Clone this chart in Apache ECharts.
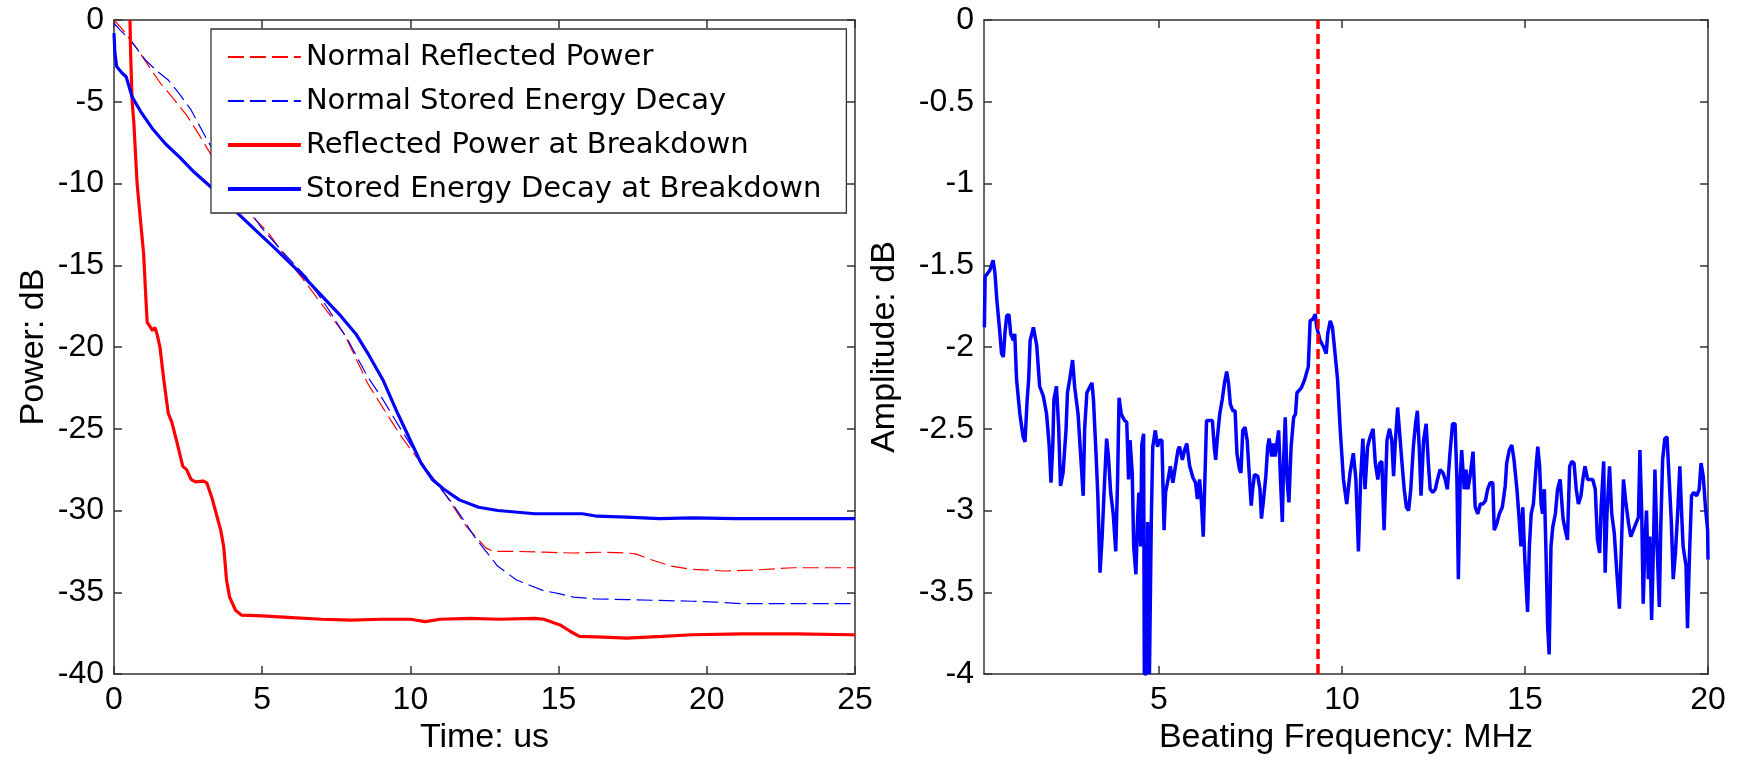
<!DOCTYPE html>
<html><head><meta charset="utf-8">
<script src="https://cdn.jsdelivr.net/npm/echarts@6/dist/echarts.min.js"></script>
<style>html,body{margin:0;padding:0;background:#fff}#chart{width:1742px;height:760px}</style>
</head><body><div id="chart"></div>
<script>
// ---- data (time in us, power in dB) ----
const seriesNames = ['Normal Reflected Power', 'Normal Stored Energy Decay', 'Reflected Power at Breakdown', 'Stored Energy Decay at Breakdown'];

const normalReflected = [[0,0],[0.3,-0.6],[0.54,-1.2],[0.8,-1.8],[1.2,-2.9],[1.58,-3.9],[2.0,-4.8],[2.48,-5.9],[2.9,-7.1],[3.26,-8.2],[3.9,-10.0],[4.55,-11.8],[5.2,-13.0],[5.8,-14.5],[6.48,-16.1],[7.1,-17.6],[7.77,-19.2],[8.4,-21.6],[8.55,-22.2],[9.1,-23.8],[9.7,-25.5],[10.36,-27.1],[10.8,-28.1],[11.13,-28.9],[11.5,-29.9],[11.9,-31.0],[12.3,-31.8],[12.55,-32.3],[12.8,-32.5],[13.5,-32.5],[14.5,-32.55],[15.5,-32.6],[16.5,-32.55],[17.3,-32.6],[17.6,-32.65],[18.1,-33.0],[18.8,-33.4],[19.5,-33.6],[20.6,-33.7],[21.5,-33.65],[22.9,-33.5],[24,-33.5],[25,-33.5]];

const normalStored = [[0,-0.2],[0.2,-0.6],[0.54,-1.2],[1.06,-2.45],[1.5,-3.2],[1.83,-3.67],[2.2,-4.5],[2.6,-5.5],[3.13,-7.3],[3.7,-9.0],[4.3,-10.9],[4.93,-12.6],[5.7,-14.2],[6.48,-15.7],[7.2,-17.6],[7.9,-19.6],[8.55,-21.8],[9.07,-23.2],[9.7,-25.1],[10.36,-27.0],[10.9,-28.4],[11.39,-29.5],[11.8,-30.6],[12.16,-31.6],[12.55,-32.5],[12.94,-33.4],[13.58,-34.25],[14.49,-34.9],[15.05,-35.1],[15.5,-35.3],[16.2,-35.4],[17.3,-35.45],[18.4,-35.5],[19.5,-35.55],[20.3,-35.6],[21.2,-35.7],[23,-35.7],[25,-35.7]];

const reflectedBreakdown = [[0.54,0],[0.56,-2],[0.61,-4.9],[0.67,-6.3],[0.72,-8],[0.78,-10],[0.88,-12],[1.0,-14.3],[1.06,-16.5],[1.12,-18.5],[1.2,-18.7],[1.3,-19.0],[1.38,-18.8],[1.45,-19.2],[1.55,-20.0],[1.68,-22.0],[1.83,-24.05],[1.95,-24.6],[2.05,-25.3],[2.16,-26.1],[2.32,-27.3],[2.45,-27.5],[2.6,-28.1],[2.75,-28.25],[3.0,-28.2],[3.13,-28.3],[3.3,-29.2],[3.45,-30.2],[3.6,-31.2],[3.7,-32.2],[3.8,-34.3],[3.9,-35.3],[4.1,-36.1],[4.3,-36.4],[5,-36.45],[6,-36.55],[7,-36.65],[8,-36.7],[9,-36.65],[10,-36.65],[10.5,-36.8],[11,-36.65],[12,-36.6],[13,-36.65],[14.2,-36.6],[14.5,-36.65],[15.05,-37.0],[15.4,-37.4],[15.7,-37.7],[16.5,-37.75],[17.3,-37.8],[18.5,-37.7],[19.5,-37.6],[21.2,-37.55],[23,-37.55],[24.9,-37.6],[25,-37.6]];

const storedBreakdown = [[0,-0.8],[0.03,-2.0],[0.09,-2.85],[0.25,-3.2],[0.41,-3.47],[0.61,-4.7],[0.9,-5.6],[1.32,-6.7],[1.75,-7.6],[2.22,-8.4],[2.7,-9.3],[3.26,-10.2],[4.16,-11.8],[4.8,-12.9],[5.45,-14.0],[6.3,-15.5],[7.13,-17.1],[7.65,-18.1],[8.16,-19.2],[8.6,-20.5],[9.07,-22.0],[9.58,-24.1],[10.1,-26.1],[10.36,-27.1],[10.74,-28.1],[11.13,-28.7],[11.65,-29.35],[12.3,-29.8],[12.95,-30.0],[14.2,-30.2],[15.05,-30.2],[15.8,-30.2],[16.3,-30.35],[17.3,-30.4],[18.4,-30.5],[19.5,-30.45],[21,-30.5],[23,-30.5],[25,-30.5]];

// ---- data (beating frequency in MHz, amplitude in dB) ----
const beatingSpectrum = [[0.23,-1.88],[0.25,-1.57],[0.38,-1.53],[0.47,-1.47],[0.52,-1.55],[0.57,-1.71],[0.64,-1.88],[0.70,-2.04],[0.75,-2.06],[0.79,-1.92],[0.84,-1.81],[0.9,-1.80],[0.95,-1.92],[1.02,-1.96],[1.06,-1.92],[1.11,-2.2],[1.2,-2.41],[1.29,-2.55],[1.34,-2.58],[1.4,-2.32],[1.44,-2.2],[1.48,-1.96],[1.57,-1.88],[1.66,-1.99],[1.74,-2.24],[1.84,-2.30],[1.93,-2.41],[2.0,-2.6],[2.05,-2.83],[2.1,-2.6],[2.13,-2.32],[2.2,-2.24],[2.26,-2.49],[2.31,-2.85],[2.38,-2.77],[2.46,-2.51],[2.5,-2.28],[2.56,-2.2],[2.64,-2.08],[2.7,-2.25],[2.79,-2.41],[2.88,-2.73],[2.93,-2.91],[2.97,-2.5],[3.03,-2.28],[3.12,-2.24],[3.17,-2.22],[3.21,-2.32],[3.28,-2.65],[3.33,-2.91],[3.39,-3.38],[3.45,-3.15],[3.5,-2.89],[3.57,-2.56],[3.62,-2.67],[3.68,-2.89],[3.75,-3.02],[3.82,-3.25],[3.87,-2.81],[3.91,-2.31],[3.97,-2.41],[4.06,-2.45],[4.12,-2.46],[4.17,-2.81],[4.21,-2.57],[4.27,-2.77],[4.31,-3.22],[4.37,-3.39],[4.41,-3.09],[4.45,-2.89],[4.5,-3.22],[4.53,-2.6],[4.58,-2.53],[4.6,-4.0],[4.66,-4.0],[4.69,-3.07],[4.74,-4.0],[4.79,-3.07],[4.83,-2.61],[4.9,-2.51],[4.96,-2.61],[5.01,-2.57],[5.08,-2.57],[5.14,-3.12],[5.18,-2.89],[5.25,-2.81],[5.31,-2.73],[5.38,-2.83],[5.45,-2.73],[5.52,-2.63],[5.56,-2.61],[5.64,-2.69],[5.7,-2.63],[5.76,-2.59],[5.84,-2.73],[5.93,-2.8],[6.0,-2.83],[6.05,-2.93],[6.11,-2.81],[6.16,-2.95],[6.21,-3.16],[6.25,-2.85],[6.3,-2.45],[6.39,-2.45],[6.46,-2.45],[6.51,-2.61],[6.55,-2.69],[6.59,-2.57],[6.66,-2.41],[6.73,-2.32],[6.79,-2.22],[6.85,-2.15],[6.9,-2.22],[6.95,-2.35],[7.02,-2.39],[7.08,-2.39],[7.13,-2.65],[7.2,-2.75],[7.24,-2.77],[7.29,-2.51],[7.35,-2.49],[7.41,-2.57],[7.47,-2.79],[7.52,-2.97],[7.56,-2.87],[7.61,-2.78],[7.7,-2.79],[7.76,-2.87],[7.8,-3.05],[7.85,-2.95],[7.92,-2.79],[7.97,-2.61],[8.01,-2.56],[8.08,-2.67],[8.12,-2.59],[8.17,-2.67],[8.21,-2.61],[8.27,-2.51],[8.32,-2.81],[8.37,-3.07],[8.41,-2.67],[8.45,-2.43],[8.5,-2.81],[8.55,-2.95],[8.61,-2.61],[8.68,-2.43],[8.73,-2.41],[8.77,-2.28],[8.89,-2.25],[8.98,-2.2],[9.08,-2.12],[9.13,-1.84],[9.2,-1.83],[9.27,-1.80],[9.31,-1.88],[9.36,-1.92],[9.4,-1.96],[9.5,-2.0],[9.57,-2.04],[9.61,-1.92],[9.68,-1.84],[9.74,-1.88],[9.82,-2.06],[9.88,-2.2],[9.95,-2.5],[10.04,-2.81],[10.13,-2.96],[10.22,-2.77],[10.31,-2.65],[10.38,-2.81],[10.45,-3.25],[10.51,-2.81],[10.57,-2.56],[10.63,-2.87],[10.7,-2.61],[10.77,-2.55],[10.85,-2.5],[10.91,-2.71],[10.98,-2.81],[11.03,-2.71],[11.09,-2.7],[11.15,-3.12],[11.23,-2.57],[11.3,-2.5],[11.36,-2.57],[11.41,-2.79],[11.45,-2.61],[11.52,-2.37],[11.57,-2.51],[11.64,-2.71],[11.7,-2.87],[11.76,-2.98],[11.82,-3.0],[11.88,-2.87],[11.95,-2.61],[12.01,-2.47],[12.06,-2.39],[12.11,-2.61],[12.16,-2.91],[12.23,-2.57],[12.3,-2.47],[12.36,-2.71],[12.41,-2.87],[12.48,-2.89],[12.55,-2.87],[12.61,-2.81],[12.68,-2.75],[12.76,-2.77],[12.82,-2.81],[12.88,-2.87],[12.95,-2.65],[13.02,-2.47],[13.09,-2.47],[13.14,-2.81],[13.18,-3.42],[13.23,-2.81],[13.27,-2.63],[13.34,-2.87],[13.39,-2.75],[13.44,-2.87],[13.5,-2.79],[13.58,-2.64],[13.64,-2.98],[13.71,-3.02],[13.78,-2.96],[13.85,-2.96],[13.92,-2.94],[13.98,-2.87],[14.05,-2.83],[14.12,-2.83],[14.16,-3.12],[14.23,-3.08],[14.3,-3.02],[14.38,-2.98],[14.46,-2.85],[14.5,-2.71],[14.57,-2.63],[14.64,-2.6],[14.7,-2.69],[14.78,-2.87],[14.84,-3.05],[14.89,-3.22],[14.94,-2.98],[15.0,-3.32],[15.07,-3.62],[15.12,-3.22],[15.17,-3.02],[15.23,-2.96],[15.31,-2.71],[15.35,-2.61],[15.4,-2.73],[15.44,-2.96],[15.48,-3.02],[15.53,-2.87],[15.57,-3.22],[15.62,-3.71],[15.66,-3.88],[15.71,-3.22],[15.76,-3.1],[15.83,-3.02],[15.89,-2.87],[15.96,-2.81],[16.04,-3.05],[16.1,-3.12],[16.16,-3.18],[16.22,-2.73],[16.28,-2.7],[16.34,-2.71],[16.4,-2.87],[16.46,-2.96],[16.53,-2.91],[16.58,-2.81],[16.64,-2.73],[16.71,-2.81],[16.78,-2.81],[16.85,-2.81],[16.92,-2.87],[16.98,-3.18],[17.04,-3.26],[17.08,-2.98],[17.15,-2.7],[17.19,-3.38],[17.24,-3.02],[17.31,-2.73],[17.37,-3.02],[17.44,-3.14],[17.51,-3.38],[17.58,-3.6],[17.64,-3.18],[17.69,-2.81],[17.75,-2.94],[17.83,-3.08],[17.89,-3.16],[17.96,-3.12],[18.03,-3.08],[18.1,-3.04],[18.14,-2.63],[18.19,-3.02],[18.23,-3.57],[18.28,-3.18],[18.32,-3.0],[18.37,-3.42],[18.41,-3.16],[18.46,-3.67],[18.51,-3.22],[18.55,-2.75],[18.61,-3.22],[18.67,-3.59],[18.71,-3.1],[18.76,-2.69],[18.82,-2.56],[18.88,-2.55],[18.94,-2.81],[19.0,-3.08],[19.05,-3.42],[19.11,-3.26],[19.17,-3.02],[19.23,-2.73],[19.28,-3.02],[19.32,-3.22],[19.4,-3.34],[19.44,-3.72],[19.49,-3.3],[19.55,-2.91],[19.61,-2.89],[19.69,-2.91],[19.76,-2.87],[19.81,-2.71],[19.87,-2.79],[19.93,-2.98],[19.99,-3.12],[20.0,-3.3]];

const markerFrequency = 9.35;
const frequencyTicks = [5, 10, 15, 20];

// ---- styling ----
const axisColor = '#333';
const lineStyleAxis = { color: axisColor, width: 1.5 };
const tickFont = { fontFamily: '"Liberation Sans", Arial, sans-serif', fontSize: 32, color: '#000' };
const nameFont = { fontFamily: '"Liberation Sans", Arial, sans-serif', fontSize: 34, color: '#000' };
const thinDash = [16, 6];
const seriesColors = ['#ff0000', '#0000ff', '#ff0000', '#0000ff'];
const seriesWidths = [1.2, 1.2, 3.2, 3.2];
const seriesDashes = [thinDash, thinDash, 'solid', 'solid'];

function baseAxis(extra) {
  return Object.assign({
    type: 'value',
    axisLine: { show: true, onZero: false, lineStyle: lineStyleAxis },
    axisTick: { show: true, inside: true, length: 8, lineStyle: lineStyleAxis },
    splitLine: { show: false },
    axisLabel: Object.assign({ margin: 10 }, tickFont)
  }, extra);
}
function mirrorAxis(extra) {
  const a = baseAxis(extra);
  a.axisLabel = { show: false };
  return a;
}

const leftData = [normalReflected, normalStored, reflectedBreakdown, storedBreakdown];
const leftSeries = seriesNames.map((n, i) => ({
  name: n, type: 'line', xAxisIndex: 0, yAxisIndex: 0, data: leftData[i],
  symbol: 'none', showSymbol: false, itemStyle: { color: seriesColors[i] },
  lineStyle: { color: seriesColors[i], width: seriesWidths[i], type: seriesDashes[i] }
}));

const chart = echarts.init(document.getElementById('chart'), null, { renderer: 'canvas' });
chart.setOption({
  animation: false,
  backgroundColor: '#fff',
  grid: [
    { left: 114, top: 20, width: 741, height: 654 },
    { left: 984, top: 20, width: 724, height: 654 }
  ],
  xAxis: [
    baseAxis({ gridIndex: 0, position: 'bottom', min: 0, max: 25, interval: 5,
      name: 'Time: us', nameLocation: 'middle', nameGap: 46, nameTextStyle: nameFont }),
    mirrorAxis({ gridIndex: 0, position: 'top', min: 0, max: 25, interval: 5 }),
    baseAxis({ gridIndex: 1, position: 'bottom', min: 0.22, max: 20,
      axisLabel: Object.assign({ margin: 10, customValues: frequencyTicks }, tickFont),
      axisTick: { show: true, inside: true, length: 8, lineStyle: lineStyleAxis, customValues: frequencyTicks },
      name: 'Beating Frequency: MHz', nameLocation: 'middle', nameGap: 46, nameTextStyle: nameFont }),
    mirrorAxis({ gridIndex: 1, position: 'top', min: 0.22, max: 20,
      axisTick: { show: true, inside: true, length: 8, lineStyle: lineStyleAxis, customValues: frequencyTicks } })
  ],
  yAxis: [
    baseAxis({ gridIndex: 0, position: 'left', min: -40, max: 0, interval: 5,
      name: 'Power: dB', nameLocation: 'middle', nameGap: 63, nameTextStyle: nameFont }),
    mirrorAxis({ gridIndex: 0, position: 'right', min: -40, max: 0, interval: 5 }),
    baseAxis({ gridIndex: 1, position: 'left', min: -4, max: 0, interval: 0.5,
      name: 'Amplitude: dB', nameLocation: 'middle', nameGap: 82, nameTextStyle: nameFont }),
    mirrorAxis({ gridIndex: 1, position: 'right', min: -4, max: 0, interval: 0.5 })
  ],
  legend: {
    data: seriesNames.map((n, i) => ({
      name: n,
      itemStyle: { opacity: 0 },
      lineStyle: { color: seriesColors[i], width: seriesWidths[i] + 0.6, type: seriesDashes[i] }
    })),
    orient: 'vertical',
    left: 211, top: 29,
    padding: [13, 25, 9, 15],
    itemWidth: 73, itemHeight: 30, itemGap: 14,
    backgroundColor: '#fff',
    borderColor: axisColor, borderWidth: 1.3, borderRadius: 0,
    selectedMode: false,
    textStyle: { fontFamily: '"DejaVu Sans", sans-serif', fontSize: 29, lineHeight: 30, color: '#000' },
    z: 10
  },
  series: leftSeries.concat([
    { name: 'Beating Spectrum', type: 'line', xAxisIndex: 2, yAxisIndex: 2, data: beatingSpectrum,
      symbol: 'none', showSymbol: false, itemStyle: { color: '#0000ff' },
      lineStyle: { color: '#0000ff', width: 3.5 },
      markLine: { silent: true, symbol: ['none', 'none'], label: { show: false },
        lineStyle: { color: '#ff0000', width: 3.5, type: [10, 5] },
        data: [{ xAxis: markerFrequency }] } }
  ])
});
</script>
</body></html>
